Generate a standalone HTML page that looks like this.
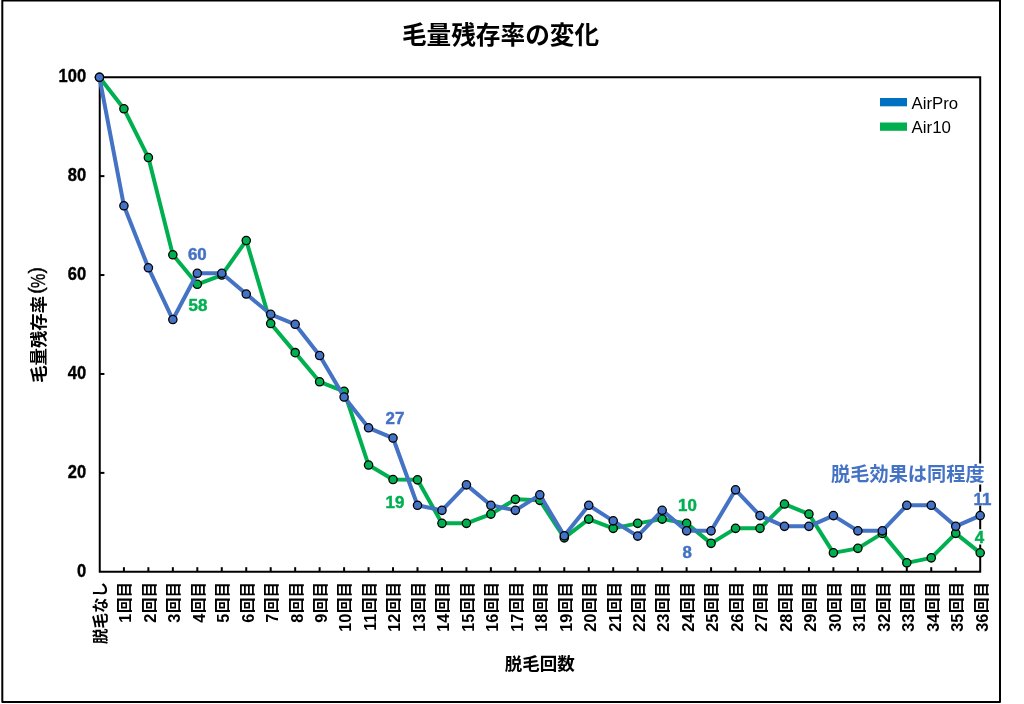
<!DOCTYPE html>
<html lang="ja">
<head>
<meta charset="utf-8">
<title>毛量残存率の変化</title>
<style>
html,body{margin:0;padding:0;background:#fff;}
body{width:1024px;height:704px;overflow:hidden;}
svg{display:block;}
text{font-family:"Liberation Sans","Noto Sans CJK JP",sans-serif;}
.b{font-weight:700;}
</style>
</head>
<body>
<svg width="1024" height="704" viewBox="0 0 1024 704">
<rect x="0" y="0" width="1024" height="704" fill="#fff"/>
<!-- outer frame -->
<rect x="2.3" y="0.6" width="997.7" height="701.3" fill="none" stroke="#000" stroke-width="2" stroke-linejoin="round"/>
<!-- plot frame -->
<path d="M980.2 463.5V77.2H99.75V571.8H980.2V544.6M980.2 529.2V505.4M980.2 491.7V484.6" fill="none" stroke="#000" stroke-width="2" stroke-linejoin="miter"/>

<g stroke="#000" stroke-width="2">
<line x1="123.92" y1="567.2" x2="123.92" y2="572"/>
<line x1="148.38" y1="567.2" x2="148.38" y2="572"/>
<line x1="172.84" y1="567.2" x2="172.84" y2="572"/>
<line x1="197.31" y1="567.2" x2="197.31" y2="572"/>
<line x1="221.78" y1="567.2" x2="221.78" y2="572"/>
<line x1="246.24" y1="567.2" x2="246.24" y2="572"/>
<line x1="270.7" y1="567.2" x2="270.7" y2="572"/>
<line x1="295.17" y1="567.2" x2="295.17" y2="572"/>
<line x1="319.63" y1="567.2" x2="319.63" y2="572"/>
<line x1="344.1" y1="567.2" x2="344.1" y2="572"/>
<line x1="368.56" y1="567.2" x2="368.56" y2="572"/>
<line x1="393.03" y1="567.2" x2="393.03" y2="572"/>
<line x1="417.5" y1="567.2" x2="417.5" y2="572"/>
<line x1="441.96" y1="567.2" x2="441.96" y2="572"/>
<line x1="466.43" y1="567.2" x2="466.43" y2="572"/>
<line x1="490.89" y1="567.2" x2="490.89" y2="572"/>
<line x1="515.36" y1="567.2" x2="515.36" y2="572"/>
<line x1="539.82" y1="567.2" x2="539.82" y2="572"/>
<line x1="564.28" y1="567.2" x2="564.28" y2="572"/>
<line x1="588.75" y1="567.2" x2="588.75" y2="572"/>
<line x1="613.22" y1="567.2" x2="613.22" y2="572"/>
<line x1="637.68" y1="567.2" x2="637.68" y2="572"/>
<line x1="662.15" y1="567.2" x2="662.15" y2="572"/>
<line x1="686.61" y1="567.2" x2="686.61" y2="572"/>
<line x1="711.08" y1="567.2" x2="711.08" y2="572"/>
<line x1="735.54" y1="567.2" x2="735.54" y2="572"/>
<line x1="760.0" y1="567.2" x2="760.0" y2="572"/>
<line x1="784.47" y1="567.2" x2="784.47" y2="572"/>
<line x1="808.94" y1="567.2" x2="808.94" y2="572"/>
<line x1="833.4" y1="567.2" x2="833.4" y2="572"/>
<line x1="857.87" y1="567.2" x2="857.87" y2="572"/>
<line x1="882.33" y1="567.2" x2="882.33" y2="572"/>
<line x1="906.8" y1="567.2" x2="906.8" y2="572"/>
<line x1="931.26" y1="567.2" x2="931.26" y2="572"/>
<line x1="955.73" y1="567.2" x2="955.73" y2="572"/>
<line x1="100" y1="472.88" x2="104.4" y2="472.88"/>
<line x1="100" y1="373.96" x2="104.4" y2="373.96"/>
<line x1="100" y1="275.04" x2="104.4" y2="275.04"/>
<line x1="100" y1="176.12" x2="104.4" y2="176.12"/>
</g>
<text class="b" x="500.5" y="43.5" font-size="24.65" text-anchor="middle">毛量残存率の変化</text>
<g class="b" font-size="16.5" text-anchor="end" stroke="#000" stroke-width="0.35">
<text transform="translate(86.1,576.85) scale(1,1.07)">0</text>
<text transform="translate(86.1,477.93) scale(1,1.07)">20</text>
<text transform="translate(86.1,379.01) scale(1,1.07)">40</text>
<text transform="translate(86.1,280.09) scale(1,1.07)">60</text>
<text transform="translate(86.1,181.17) scale(1,1.07)">80</text>
<text transform="translate(86.1,82.25) scale(1,1.07)">100</text>
</g>
<text class="b" font-size="17.4" transform="translate(44.6,382.8) rotate(-90)">毛量残存率</text>
<text font-size="16" stroke="#000" stroke-width="0.35" transform="translate(42.7,293.7) rotate(-90) scale(1.2,1.24)" x="0 16.9">()</text>
<text font-size="16" stroke="#000" stroke-width="0.3" transform="translate(45,288) rotate(-90) scale(1,1.25)">%</text>
<text class="b" font-size="17.5" text-anchor="middle" x="539.8" y="670.3">脱毛回数</text>
<g class="b" font-size="15.5" text-anchor="end">
<text transform="translate(106,582) rotate(-90)">脱毛なし</text>
<text transform="translate(130,582) rotate(-90)"><tspan font-size="16.3" dy="0.9">1</tspan><tspan dy="-0.9" dx="0.6">回目</tspan></text>
<text transform="translate(155,582) rotate(-90)"><tspan font-size="16.3" dy="0.9">2</tspan><tspan dy="-0.9" dx="0.6">回目</tspan></text>
<text transform="translate(179,582) rotate(-90)"><tspan font-size="16.3" dy="0.9">3</tspan><tspan dy="-0.9" dx="0.6">回目</tspan></text>
<text transform="translate(204,582) rotate(-90)"><tspan font-size="16.3" dy="0.9">4</tspan><tspan dy="-0.9" dx="0.6">回目</tspan></text>
<text transform="translate(228,582) rotate(-90)"><tspan font-size="16.3" dy="0.9">5</tspan><tspan dy="-0.9" dx="0.6">回目</tspan></text>
<text transform="translate(253,582) rotate(-90)"><tspan font-size="16.3" dy="0.9">6</tspan><tspan dy="-0.9" dx="0.6">回目</tspan></text>
<text transform="translate(277,582) rotate(-90)"><tspan font-size="16.3" dy="0.9">7</tspan><tspan dy="-0.9" dx="0.6">回目</tspan></text>
<text transform="translate(302,582) rotate(-90)"><tspan font-size="16.3" dy="0.9">8</tspan><tspan dy="-0.9" dx="0.6">回目</tspan></text>
<text transform="translate(326,582) rotate(-90)"><tspan font-size="16.3" dy="0.9">9</tspan><tspan dy="-0.9" dx="0.6">回目</tspan></text>
<text transform="translate(350,582) rotate(-90)"><tspan font-size="16.3" dy="0.9">10</tspan><tspan dy="-0.9" dx="0.6">回目</tspan></text>
<text transform="translate(375,582) rotate(-90)"><tspan font-size="16.3" dy="0.9">11</tspan><tspan dy="-0.9" dx="0.6">回目</tspan></text>
<text transform="translate(399,582) rotate(-90)"><tspan font-size="16.3" dy="0.9">12</tspan><tspan dy="-0.9" dx="0.6">回目</tspan></text>
<text transform="translate(424,582) rotate(-90)"><tspan font-size="16.3" dy="0.9">13</tspan><tspan dy="-0.9" dx="0.6">回目</tspan></text>
<text transform="translate(448,582) rotate(-90)"><tspan font-size="16.3" dy="0.9">14</tspan><tspan dy="-0.9" dx="0.6">回目</tspan></text>
<text transform="translate(473,582) rotate(-90)"><tspan font-size="16.3" dy="0.9">15</tspan><tspan dy="-0.9" dx="0.6">回目</tspan></text>
<text transform="translate(497,582) rotate(-90)"><tspan font-size="16.3" dy="0.9">16</tspan><tspan dy="-0.9" dx="0.6">回目</tspan></text>
<text transform="translate(522,582) rotate(-90)"><tspan font-size="16.3" dy="0.9">17</tspan><tspan dy="-0.9" dx="0.6">回目</tspan></text>
<text transform="translate(546,582) rotate(-90)"><tspan font-size="16.3" dy="0.9">18</tspan><tspan dy="-0.9" dx="0.6">回目</tspan></text>
<text transform="translate(571,582) rotate(-90)"><tspan font-size="16.3" dy="0.9">19</tspan><tspan dy="-0.9" dx="0.6">回目</tspan></text>
<text transform="translate(595,582) rotate(-90)"><tspan font-size="16.3" dy="0.9">20</tspan><tspan dy="-0.9" dx="0.6">回目</tspan></text>
<text transform="translate(620,582) rotate(-90)"><tspan font-size="16.3" dy="0.9">21</tspan><tspan dy="-0.9" dx="0.6">回目</tspan></text>
<text transform="translate(644,582) rotate(-90)"><tspan font-size="16.3" dy="0.9">22</tspan><tspan dy="-0.9" dx="0.6">回目</tspan></text>
<text transform="translate(668,582) rotate(-90)"><tspan font-size="16.3" dy="0.9">23</tspan><tspan dy="-0.9" dx="0.6">回目</tspan></text>
<text transform="translate(693,582) rotate(-90)"><tspan font-size="16.3" dy="0.9">24</tspan><tspan dy="-0.9" dx="0.6">回目</tspan></text>
<text transform="translate(717,582) rotate(-90)"><tspan font-size="16.3" dy="0.9">25</tspan><tspan dy="-0.9" dx="0.6">回目</tspan></text>
<text transform="translate(742,582) rotate(-90)"><tspan font-size="16.3" dy="0.9">26</tspan><tspan dy="-0.9" dx="0.6">回目</tspan></text>
<text transform="translate(766,582) rotate(-90)"><tspan font-size="16.3" dy="0.9">27</tspan><tspan dy="-0.9" dx="0.6">回目</tspan></text>
<text transform="translate(791,582) rotate(-90)"><tspan font-size="16.3" dy="0.9">28</tspan><tspan dy="-0.9" dx="0.6">回目</tspan></text>
<text transform="translate(815,582) rotate(-90)"><tspan font-size="16.3" dy="0.9">29</tspan><tspan dy="-0.9" dx="0.6">回目</tspan></text>
<text transform="translate(840,582) rotate(-90)"><tspan font-size="16.3" dy="0.9">30</tspan><tspan dy="-0.9" dx="0.6">回目</tspan></text>
<text transform="translate(864,582) rotate(-90)"><tspan font-size="16.3" dy="0.9">31</tspan><tspan dy="-0.9" dx="0.6">回目</tspan></text>
<text transform="translate(889,582) rotate(-90)"><tspan font-size="16.3" dy="0.9">32</tspan><tspan dy="-0.9" dx="0.6">回目</tspan></text>
<text transform="translate(913,582) rotate(-90)"><tspan font-size="16.3" dy="0.9">33</tspan><tspan dy="-0.9" dx="0.6">回目</tspan></text>
<text transform="translate(938,582) rotate(-90)"><tspan font-size="16.3" dy="0.9">34</tspan><tspan dy="-0.9" dx="0.6">回目</tspan></text>
<text transform="translate(962,582) rotate(-90)"><tspan font-size="16.3" dy="0.9">35</tspan><tspan dy="-0.9" dx="0.6">回目</tspan></text>
<text transform="translate(987,582) rotate(-90)"><tspan font-size="16.3" dy="0.9">36</tspan><tspan dy="-0.9" dx="0.6">回目</tspan></text>
</g>
<rect x="880" y="98" width="27" height="8.3" fill="#0070C0"/>
<rect x="880" y="122.5" width="27" height="8.3" fill="#00B050"/>
<text x="911.6" y="108.5" font-size="16" textLength="46.6" lengthAdjust="spacingAndGlyphs">AirPro</text>
<text x="911.6" y="133.2" font-size="16" textLength="39.4" lengthAdjust="spacingAndGlyphs">Air10</text>
<polyline points="99.45,77.35 123.92,108.8 148.38,157.55 172.84,254.8 197.31,284.3 221.78,275.05 246.24,240.55 270.7,323.55 295.17,352.65 319.63,381.8 344.1,391.3 368.56,465.05 393.03,479.55 417.5,479.85 441.96,523.35 466.43,523.35 490.89,514.1 515.36,499.35 539.82,500.35 564.28,537.85 588.75,519.1 613.22,528.35 637.68,523.35 662.15,519.1 686.61,523.35 711.08,543.35 735.54,528.35 760.0,528.35 784.47,504.05 808.94,514.1 833.4,552.85 857.87,548.35 882.33,533.4 906.8,562.85 931.26,557.85 955.73,533.35 980.19,552.85" fill="none" stroke="#00B050" stroke-width="4" stroke-linejoin="round" stroke-linecap="round"/>
<g fill="#00B050" stroke="#000" stroke-width="1.3">
<circle cx="99.45" cy="77.35" r="4.15"/>
<circle cx="123.92" cy="108.8" r="4.15"/>
<circle cx="148.38" cy="157.55" r="4.15"/>
<circle cx="172.84" cy="254.8" r="4.15"/>
<circle cx="197.31" cy="284.3" r="4.15"/>
<circle cx="221.78" cy="275.05" r="4.15"/>
<circle cx="246.24" cy="240.55" r="4.15"/>
<circle cx="270.7" cy="323.55" r="4.15"/>
<circle cx="295.17" cy="352.65" r="4.15"/>
<circle cx="319.63" cy="381.8" r="4.15"/>
<circle cx="344.1" cy="391.3" r="4.15"/>
<circle cx="368.56" cy="465.05" r="4.15"/>
<circle cx="393.03" cy="479.55" r="4.15"/>
<circle cx="417.5" cy="479.85" r="4.15"/>
<circle cx="441.96" cy="523.35" r="4.15"/>
<circle cx="466.43" cy="523.35" r="4.15"/>
<circle cx="490.89" cy="514.1" r="4.15"/>
<circle cx="515.36" cy="499.35" r="4.15"/>
<circle cx="539.82" cy="500.35" r="4.15"/>
<circle cx="564.28" cy="537.85" r="4.15"/>
<circle cx="588.75" cy="519.1" r="4.15"/>
<circle cx="613.22" cy="528.35" r="4.15"/>
<circle cx="637.68" cy="523.35" r="4.15"/>
<circle cx="662.15" cy="519.1" r="4.15"/>
<circle cx="686.61" cy="523.35" r="4.15"/>
<circle cx="711.08" cy="543.35" r="4.15"/>
<circle cx="735.54" cy="528.35" r="4.15"/>
<circle cx="760.0" cy="528.35" r="4.15"/>
<circle cx="784.47" cy="504.05" r="4.15"/>
<circle cx="808.94" cy="514.1" r="4.15"/>
<circle cx="833.4" cy="552.85" r="4.15"/>
<circle cx="857.87" cy="548.35" r="4.15"/>
<circle cx="882.33" cy="533.4" r="4.15"/>
<circle cx="906.8" cy="562.85" r="4.15"/>
<circle cx="931.26" cy="557.85" r="4.15"/>
<circle cx="955.73" cy="533.35" r="4.15"/>
<circle cx="980.19" cy="552.85" r="4.15"/>
</g>
<polyline points="99.45,77.35 123.92,205.8 148.38,267.8 172.84,319.55 197.31,273.3 221.78,273.3 246.24,294.05 270.7,314.3 295.17,324.3 319.63,355.55 344.1,397.05 368.56,427.8 393.03,438.05 417.5,505.3 441.96,510.35 466.43,484.85 490.89,505.3 515.36,510.35 539.82,494.85 564.28,535.85 588.75,505.3 613.22,520.85 637.68,536.1 662.15,510.35 686.61,530.85 711.08,530.85 735.54,489.85 760.0,515.6 784.47,526.35 808.94,526.35 833.4,515.6 857.87,530.85 882.33,530.85 906.8,505.3 931.26,505.3 955.73,526.35 980.19,515.6" fill="none" stroke="#4472C4" stroke-width="4" stroke-linejoin="round" stroke-linecap="round"/>
<g fill="#4472C4" stroke="#000" stroke-width="1.3">
<circle cx="99.45" cy="77.35" r="4.15"/>
<circle cx="123.92" cy="205.8" r="4.15"/>
<circle cx="148.38" cy="267.8" r="4.15"/>
<circle cx="172.84" cy="319.55" r="4.15"/>
<circle cx="197.31" cy="273.3" r="4.15"/>
<circle cx="221.78" cy="273.3" r="4.15"/>
<circle cx="246.24" cy="294.05" r="4.15"/>
<circle cx="270.7" cy="314.3" r="4.15"/>
<circle cx="295.17" cy="324.3" r="4.15"/>
<circle cx="319.63" cy="355.55" r="4.15"/>
<circle cx="344.1" cy="397.05" r="4.15"/>
<circle cx="368.56" cy="427.8" r="4.15"/>
<circle cx="393.03" cy="438.05" r="4.15"/>
<circle cx="417.5" cy="505.3" r="4.15"/>
<circle cx="441.96" cy="510.35" r="4.15"/>
<circle cx="466.43" cy="484.85" r="4.15"/>
<circle cx="490.89" cy="505.3" r="4.15"/>
<circle cx="515.36" cy="510.35" r="4.15"/>
<circle cx="539.82" cy="494.85" r="4.15"/>
<circle cx="564.28" cy="535.85" r="4.15"/>
<circle cx="588.75" cy="505.3" r="4.15"/>
<circle cx="613.22" cy="520.85" r="4.15"/>
<circle cx="637.68" cy="536.1" r="4.15"/>
<circle cx="662.15" cy="510.35" r="4.15"/>
<circle cx="686.61" cy="530.85" r="4.15"/>
<circle cx="711.08" cy="530.85" r="4.15"/>
<circle cx="735.54" cy="489.85" r="4.15"/>
<circle cx="760.0" cy="515.6" r="4.15"/>
<circle cx="784.47" cy="526.35" r="4.15"/>
<circle cx="808.94" cy="526.35" r="4.15"/>
<circle cx="833.4" cy="515.6" r="4.15"/>
<circle cx="857.87" cy="530.85" r="4.15"/>
<circle cx="882.33" cy="530.85" r="4.15"/>
<circle cx="906.8" cy="505.3" r="4.15"/>
<circle cx="931.26" cy="505.3" r="4.15"/>
<circle cx="955.73" cy="526.35" r="4.15"/>
<circle cx="980.19" cy="515.6" r="4.15"/>
</g>
<text class="b" x="187.9" y="260.1" font-size="16.9" fill="#4472C4" stroke="#4472C4" stroke-width="0.45" text-anchor="start">60</text>
<text class="b" x="188.5" y="310.5" font-size="16.9" fill="#00B050" stroke="#00B050" stroke-width="0.45" text-anchor="start">58</text>
<text class="b" x="385.5" y="423.75" font-size="16.9" fill="#4472C4" stroke="#4472C4" stroke-width="0.45" text-anchor="start">27</text>
<text class="b" x="385.5" y="508" font-size="16.9" fill="#00B050" stroke="#00B050" stroke-width="0.45" text-anchor="start">19</text>
<text class="b" x="678" y="510.5" font-size="16.9" fill="#00B050" stroke="#00B050" stroke-width="0.45" text-anchor="start">10</text>
<text class="b" x="682.5" y="558" font-size="16.9" fill="#4472C4" stroke="#4472C4" stroke-width="0.45" text-anchor="start">8</text>
<text class="b" x="973.6" y="505" font-size="16.9" fill="#4472C4" stroke="#4472C4" stroke-width="0.45" text-anchor="start">11</text>
<text class="b" x="974.7" y="542.6" font-size="16.9" fill="#00B050" stroke="#00B050" stroke-width="0.45" text-anchor="start">4</text>
<text class="b" x="984.6" y="480.6" font-size="19.2" fill="#4472C4" text-anchor="end">脱毛効果は同程度</text>
</svg>
</body>
</html>
